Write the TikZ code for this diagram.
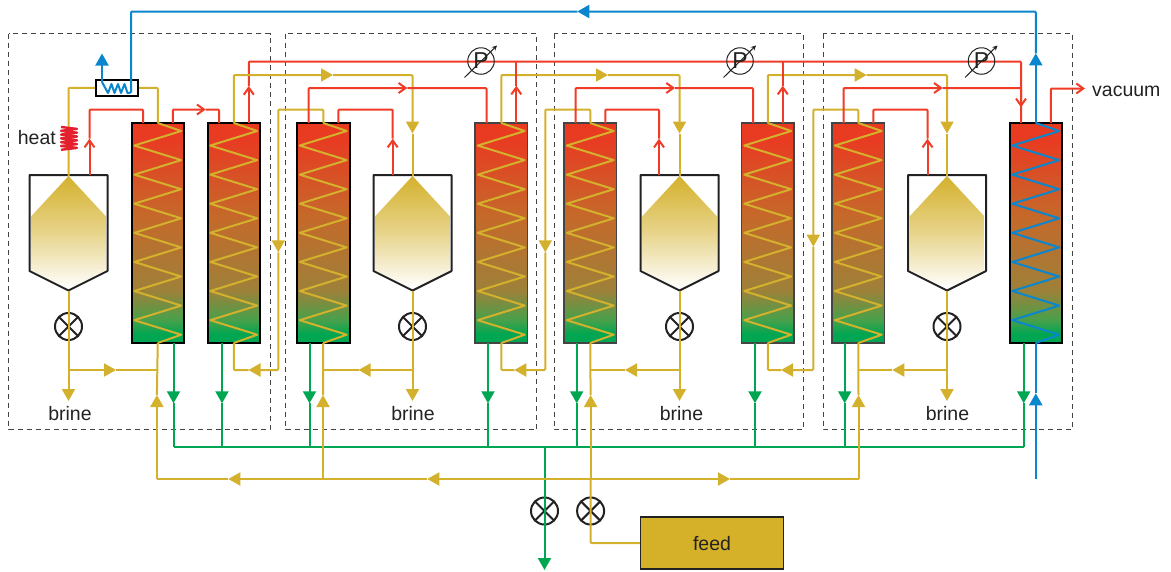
\documentclass[tikz,border=0pt]{standalone}
\usepackage{fontspec}
\setmainfont{Liberation Sans}
\usetikzlibrary{arrows.meta,calc}
\definecolor{goldc}{HTML}{D4B12C}
\definecolor{redc}{HTML}{F03C26}
\definecolor{greenc}{HTML}{00A651}
\definecolor{bluec}{HTML}{0A86CF}
\definecolor{inkc}{HTML}{222222}
\definecolor{dashc}{HTML}{444444}
\definecolor{coilc}{HTML}{E5202E}
\definecolor{feedc}{HTML}{D4B128}
\definecolor{gradA}{HTML}{48A04B}
\definecolor{gradB}{HTML}{9E8139}
\definecolor{gradC}{HTML}{C5692A}
\definecolor{gradD}{HTML}{E83C22}
\definecolor{gradE}{HTML}{E93A20}
\pgfdeclareverticalshading{colgrad}{100bp}{
  color(0bp)=(greenc);
  color(27bp)=(greenc);
  color(30.25bp)=(gradA);
  color(37bp)=(gradB);
  color(53.85bp)=(gradC);
  color(71bp)=(gradD);
  color(75bp)=(gradE);
  color(100bp)=(gradE)}
\tikzset{
  flow/.style={line width=2pt,line join=round,rounded corners=1pt},
  goldline/.style={flow,draw=goldc},
  redline/.style={flow,draw=redc},
  greenline/.style={flow,draw=greenc},
  blueline/.style={flow,draw=bluec},
  goldtip/.style={-{Triangle[length=12pt,width=13pt,fill=goldc]}},
  greentip/.style={-{Triangle[length=12pt,width=13pt,fill=greenc]}},
  bluetip/.style={-{Triangle[length=12pt,width=13pt,fill=bluec]}},
  redtip/.style={-{Straight Barb[length=7pt,width=10pt]}},
  groupbox/.style={draw=dashc,line width=1pt,dash pattern=on 5pt off 4pt},
  columnbox/.style={shade,shading=colgrad,minimum width=52.5pt,minimum height=220pt,inner sep=0pt,outer sep=0pt},
  valve/.style={circle,draw=inkc,line width=2pt,fill=white,minimum size=27pt,inner sep=0pt,
    path picture={\draw[inkc,line width=2pt] (path picture bounding box.north west)--(path picture bounding box.south east)
      (path picture bounding box.north east)--(path picture bounding box.south west);}},
  gauge/.style={circle,draw=inkc,line width=1pt,minimum size=26.5pt,inner sep=0pt,text=inkc,font=\fontsize{23}{23}\selectfont},
  label/.style={text=inkc,anchor=base,inner sep=0pt,font=\fontsize{19.5}{20}\selectfont},
  hxbox/.style={draw=black,fill=white,line width=2pt,minimum width=42pt,minimum height=15.7pt,inner sep=0pt},
  feedbox/.style={draw=inkc,fill=feedc,line width=1.5pt,minimum width=143pt,minimum height=52pt,inner sep=0pt},
}
\newcommand{\zigcol}[2]{\draw[#2,rounded corners=0pt] (#1-tc) -- ++(23.5,8)
  -- ++(-47,14.55) -- ++(47,14.55) -- ++(-47,14.55) -- ++(47,14.55)
  -- ++(-47,14.55) -- ++(47,14.55) -- ++(-47,14.55) -- ++(47,14.55)
  -- ++(-47,14.55) -- ++(47,14.55) -- ++(-47,14.55) -- ++(47,14.55)
  -- ++(-47,14.55) -- ++(47,14.55) -- (#1-bc);}
\begin{document}
\begin{tikzpicture}[x=1pt,y=-1pt]
\useasboundingbox (0,0) rectangle (1171,571);
% dashed stage frames
\draw[groupbox] (8.7,33.5) rectangle (270,429.5);
\draw[groupbox] (285.5,33.5) rectangle (536.7,429.5);
\draw[groupbox] (554.3,33.5) rectangle (803.7,429.5);
\draw[groupbox] (823,33.5) rectangle (1072.5,429.5);
% columns
\foreach \n/\x/\gb/\bc/\bw in {A/131.5/173.5/black/2,B/207.5/222/black/2,C/297/309.5/black/2,D/475/488/dashc/1.5,E/564/576.7/dashc/1.5,F/741.5/755/dashc/1.5,G/832/844.7/dashc/1.5,H/1009.5/1023.7/black/2}{
  \node[columnbox,draw=\bc,line width=\bw pt] (col\n) at (\x+26.25,233) {};
  \coordinate (\n-tl) at (\x+11.5,123);
  \coordinate (\n-tc) at (\x+26.25,123);
  \coordinate (\n-tr) at (\x+41.3,123);
  \coordinate (\n-bc) at (\x+26.25,343);
  \coordinate (\n-gb) at (\gb,343);
  \coordinate (\n-gt) at (\gb,403.3);
  \coordinate (\n-gbus) at (\gb,446.7);
}
% flash chambers and valves
\foreach \s/\cx/\rx in {1/68.5/89.5,2/412.5/392.7,3/679.5/659,4/947/927.5}{
  \shade[top color=goldc,bottom color=white,middle color=goldc!55!white]
    (\cx,176) -- (\cx+37.5,216.5) -- (\cx+37.5,270) -- (\cx,289) -- (\cx-37.5,270) -- (\cx-37.5,216.5) -- cycle;
  \draw[inkc,line width=2pt,line join=round] (\cx-39,175) -- (\cx+39,175) -- (\cx+39,271) -- (\cx,290.5) -- (\cx-39,271) -- cycle;
  \coordinate (s\s) at (\cx,176);
  \coordinate (st\s) at (\cx,290.5);
  \coordinate (sr\s) at (\rx,175);
  \coordinate (ru\s) at (\rx,138.7);
  \coordinate (j\s) at (\cx,370);
  \coordinate (bt\s) at (\cx,401);
  \node[valve] (v\s) at (\cx,326.5) {};
  \draw[goldline] (st\s) -- (v\s.center) -- (j\s);
  \draw[goldline,goldtip] (j\s) -- (bt\s);
}
\node[valve] (v5) at (544.5,511) {};
\node[valve] (v6) at (590.6,511) {};
% condenser coils
\zigcol{A}{goldline}\zigcol{B}{goldline}\zigcol{C}{goldline}\zigcol{D}{goldline}
\zigcol{E}{goldline}\zigcol{F}{goldline}\zigcol{G}{goldline}\zigcol{H}{blueline}
% stage 1 connectors
\node[hxbox] (hx) at (117.2,87.8) {};
\draw[goldline] (s1) |- (hx.west);
\draw[goldline] (hx.east) -| (A-tc);
\draw[coilc,line width=2.4pt,line join=round] (61,127) -- ++(16,1.9) -- ++(-16,1.9) -- ++(16,1.9) -- ++(-16,1.9)
  -- ++(16,1.9) -- ++(-16,1.9) -- ++(16,1.9) -- ++(-16,1.9) -- ++(16,1.9) -- ++(-16,1.9) -- ++(16,1.9) -- ++(-16,1.9);
\coordinate (rA1) at (205.7,109.5);
\coordinate (rB1) at (248.8,86);
\coordinate (rmain) at (1021,107.3);
\coordinate (rmainy) at (1021,61.5);
\draw[redline,redtip] (sr1) -- (ru1);
\draw[redline] (ru1) |- (rA1 -| A-tl) -- (A-tl);
\draw[redline,redtip] (A-tr) |- (rA1);
\draw[redline] (rA1) -| (B-tl);
\draw[redline,redtip] (B-tr) -- (rB1);
\draw[redline,redtip] (rB1) |- (rmainy) -- (rmain);
\draw[redline] (rmain) -- (H-tl);
\coordinate (lat1) at (116,370);
\draw[goldline,goldtip] (j1) -- (lat1);
\draw[goldline] (lat1) -- (lat1 -| A-bc);
% repeating stages
\foreach \s/\p/\q/\r/\cx/\gr/\dx/\dy/\ret/\rt/\lat in {2/B/C/D/412.5/333/278.3/252.3/248.5/407.3/358.5,3/D/E/F/679.5/608/545.3/252.3/514.3/675/625,4/F/G/H/947/866.7/813.3/246.7/781/942.7/892.3}{
  \coordinate (gr\s) at (\gr,75);
  \coordinate (gd\s) at (\cx,133.5);
  \coordinate (gc\s) at (\dx,109.5);
  \coordinate (gdt\s) at (\dx,\dy);
  \coordinate (gret\s) at (\ret,370);
  \coordinate (rt\s) at (\rt,88);
  \coordinate (lat\s) at (\lat,370);
  \draw[goldline,goldtip] (\p-tc) |- (gr\s);
  \draw[goldline,goldtip] (gr\s) -| (gd\s);
  \draw[goldline] (gd\s) -- (s\s);
  \draw[goldline,goldtip] (\q-tc) |- (gc\s) -- (gdt\s);
  \draw[goldline,goldtip] (gdt\s) |- (gret\s);
  \draw[goldline] (gret\s) -| (\p-bc);
  \draw[redline,redtip] (\q-tl) |- (rt\s);
  \draw[redline] (rt\s) -| (\r-tl);
  \draw[redline,redtip] (sr\s) -- (ru\s);
  \draw[redline] (ru\s) |- (gc\s -| \q-tr) -- (\q-tr);
  \draw[goldline,goldtip] (j\s) -- (lat\s);
  \draw[goldline] (lat\s) -- (lat\s -| \q-bc);
}
% branch lines up to main red header
\coordinate (rD1) at (516.3,85.7);
\coordinate (rF1) at (782.8,85.7);
\draw[redline,redtip] (D-tr) -- (rD1);
\draw[redline] (rD1) -- (rD1 |- rmainy);
\draw[redline,redtip] (F-tr) -- (rF1);
\draw[redline] (rF1) -- (rF1 |- rmainy);
% vacuum
\coordinate (vac) at (1085,88.5);
\draw[redline,redtip] (H-tr) |- (vac);
% green distillate header
\foreach \n in {A,B,C,D,E,F,G,H}{
  \draw[greenline,greentip] (\n-gb) -- (\n-gt);
  \draw[greenline] (\n-gt) -- (\n-gbus);
}
\draw[greenline] (A-gbus) -- (H-gbus);
\coordinate (gnd) at (544.5,446.7);
\coordinate (gout) at (544.5,570);
\draw[greenline,greentip] (gnd) -- (v5.center) -- (gout);
% feed bus
\node[feedbox] (feed) at (712,543) {};
\node[label] (feedt) at (712,550) {feed};
\foreach \n/\x in {A/156.9,C/323,E/590.6,G/858.5}{
  \coordinate (up\n) at (\x,395);
  \coordinate (bus\n) at (\x,479);
}
\draw[goldline] (feed.west) -| (v6.center) -- (busE);
\coordinate (busL1) at (228.3,479);
\coordinate (busL2) at (427.3,479);
\coordinate (busR1) at (730,479);
\draw[goldline,goldtip] (busE) -- (busL2);
\draw[goldline,goldtip] (busL2) -- (busL1);
\draw[goldline] (busL1) -- (busA);
\draw[goldline,goldtip] (busE) -- (busR1);
\draw[goldline] (busR1) -- (busG);
\foreach \n in {A,C,E,G}{
  \draw[goldline,goldtip] (bus\n) -- (up\n);
  \draw[goldline] (up\n) -- (\n-bc);
}
% cooling water
\coordinate (cwin) at (1035.75,479);
\coordinate (cwt1) at (1035.75,393.3);
\coordinate (cwt2) at (1035.75,53.3);
\coordinate (cwt3) at (577.3,11.5);
\coordinate (cwhx) at (131,92.5);
\coordinate (cwc) at (102,82);
\coordinate (cwt4) at (102,53.5);
\draw[blueline,bluetip] (cwin) -- (cwt1);
\draw[blueline] (cwt1) -- (H-bc);
\draw[blueline,bluetip] (H-tc) -- (cwt2);
\draw[blueline,bluetip] (cwt2) |- (cwt3);
\draw[blueline] (cwt3) -| (cwhx);
\draw[blueline,rounded corners=0pt] (cwhx) -- (127.5,93) -- (124.5,84) -- (121,93) -- (118,84) -- (114.5,93) -- (111.5,84) -- (108,93) -- (cwc);
\draw[blueline,bluetip] (cwc) -- (cwt4);
% pressure gauges
\foreach \g/\x in {1/481,2/740,3/981.5}{
  \node[gauge] (g\g) at (\x,61) {P};
  \coordinate (ga\g) at ($(g\g)+(-16.5,16.5)$);
  \coordinate (gb\g) at ($(g\g)+(16,-15.5)$);
  \draw[inkc,line width=1pt,-{Stealth[length=5pt,width=5pt]}] (ga\g) -- (gb\g);
}
% labels
\node[label,anchor=base east] (heat) at (56,144) {heat};
\node[label] (b1) at (70,420) {brine};
\node[label] (b2) at (413,420) {brine};
\node[label] (b3) at (681.5,420) {brine};
\node[label] (b4) at (947.5,420) {brine};
\node[label,anchor=base west] (vact) at (1092,96) {vacuum};
\end{tikzpicture}
\end{document}
